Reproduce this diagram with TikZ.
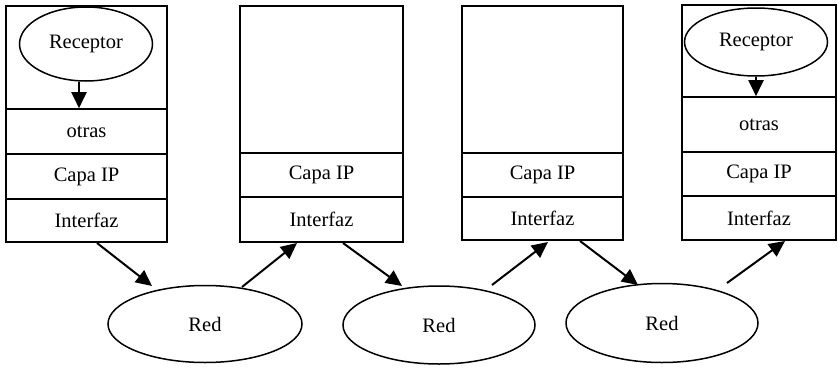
\documentclass[tikz,border=0pt]{standalone}
\usepackage{fontspec}
\setmainfont{Liberation Serif}
\usetikzlibrary{shapes.geometric,arrows.meta}
\begin{document}
\begin{tikzpicture}[x=1pt,y=-1pt,
  layer/.style={draw,line width=1.6pt,rectangle,inner sep=0pt,font=\fontsize{20.5}{24}\selectfont},
  oval/.style={draw,line width=1.5pt,ellipse,inner sep=0pt,font=\fontsize{20.5}{24}\selectfont},
  arr/.style={line width=2pt,-{Triangle[length=16pt,width=15pt]}}]
\useasboundingbox (0,0) rectangle (838,367);
% host 1
\node[layer,minimum width=161pt,minimum height=103pt] (b1t) at (86.5,57.5) {};
\node[layer,minimum width=161pt,minimum height=45pt] (b1o) at (86.5,131.5) {otras};
\node[layer,minimum width=161pt,minimum height=45pt] (b1c) at (86.5,176.5) {Capa IP};
\node[layer,minimum width=161pt,minimum height=43pt] (b1i) at (86.5,220.5) {Interfaz};
\node[oval,minimum width=133pt,minimum height=74pt] (rec1) at (86,44) {Receptor};
% router 1
\node[layer,minimum width=163pt,minimum height=147pt] (b2t) at (321.5,79.5) {};
\node[layer,minimum width=163pt,minimum height=44pt] (b2c) at (321.5,175) {Capa IP};
\node[layer,minimum width=163pt,minimum height=45pt] (b2i) at (321.5,219.5) {Interfaz};
% router 2
\node[layer,minimum width=161pt,minimum height=147pt] (b3t) at (542.5,79.5) {};
\node[layer,minimum width=161pt,minimum height=44pt] (b3c) at (542.5,175) {Capa IP};
\node[layer,minimum width=161pt,minimum height=43pt] (b3i) at (542.5,218.5) {Interfaz};
% host 2
\node[layer,minimum width=154pt,minimum height=92pt] (b4t) at (759,51) {};
\node[layer,minimum width=154pt,minimum height=55pt] (b4o) at (759,124.5) {otras};
\node[layer,minimum width=154pt,minimum height=44pt] (b4c) at (759,174) {Capa IP};
\node[layer,minimum width=154pt,minimum height=44pt] (b4i) at (759,218) {Interfaz};
\node[oval,minimum width=143pt,minimum height=68pt] (rec2) at (756,42) {Receptor};
% networks
\node[oval,minimum width=194pt,minimum height=77pt] (red1) at (205,324) {Red};
\node[oval,minimum width=192pt,minimum height=78pt] (red2) at (439,325) {Red};
\node[oval,minimum width=192pt,minimum height=79pt] (red3) at (662,323) {Red};
% receptor arrows
\draw[arr] ([xshift=-7pt]rec1.south) -- ([xshift=-7pt]rec1.south |- b1o.north);
\draw[arr] (rec2.south) -- (rec2.south |- b4o.north);
% link arrows
\coordinate (a1s) at (97,243);  \coordinate (a1e) at (152,286);
\coordinate (a2s) at (242,287); \coordinate (a2e) at (297,243);
\coordinate (a3s) at (343,243); \coordinate (a3e) at (402,286);
\coordinate (a4s) at (492,285); \coordinate (a4e) at (548,242);
\coordinate (a5s) at (580,241); \coordinate (a5e) at (638,285);
\coordinate (a6s) at (727,283); \coordinate (a6e) at (785,241);
\draw[arr] (a1s) -- (a1e);
\draw[arr] (a2s) -- (a2e);
\draw[arr] (a3s) -- (a3e);
\draw[arr] (a4s) -- (a4e);
\draw[arr] (a5s) -- (a5e);
\draw[arr] (a6s) -- (a6e);
\end{tikzpicture}
\end{document}
